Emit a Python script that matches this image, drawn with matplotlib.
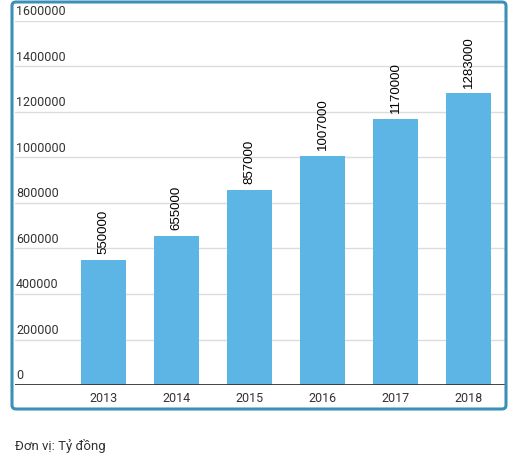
import numpy as np
import matplotlib
matplotlib.use('Agg')
from matplotlib import pyplot as plt
from matplotlib.patches import FancyBboxPatch

years = ['2013', '2014', '2015', '2016', '2017', '2018']
values = [550000, 655000, 857000, 1007000, 1170000, 1283000]
y_ticks = [0, 200000, 400000, 600000, 800000, 1000000, 1200000, 1400000, 1600000]
unit_note = 'Đơn vị: Tỷ đồng'

W, H = 509, 471
fig = plt.figure(figsize=(W / 100, H / 100), dpi=100)
fig.patch.set_facecolor('white')

# rounded frame around the chart
frame = FancyBboxPatch((12 / W, 1 - 409 / H), 494 / W, 407 / H,
                       boxstyle='round,pad=0,rounding_size=0.008',
                       transform=fig.transFigure, facecolor='none',
                       edgecolor='#3b90b8', linewidth=2.2)
fig.patches.append(frame)

ax = fig.add_axes([15 / W, 1 - 385 / H, 490 / W, 364 / H])
x = np.arange(len(years))
ax.bar(x, values, width=0.616, color='#5db5e5', zorder=2)
ax.set_xlim(-1.212, 5.5)
ax.set_ylim(0, 1600000)

for xi, v in zip(x, values):
    ax.annotate(str(v), (xi, v), xytext=(0, 4), textcoords='offset points',
                rotation=90, ha='center', va='bottom', fontsize=9.5,
                family='Liberation Sans', color='black')

# gridlines and y labels sitting just above them
for t in y_ticks[1:]:
    ax.axhline(t, color='#dcdcdc', linewidth=1, zorder=1)
for t in y_ticks:
    ax.text(0.002, t + 12000, str(t), transform=ax.get_yaxis_transform(),
            ha='left', va='bottom', fontsize=9, family='Roboto',
            color='#333333')
ax.axhline(0, color='#333333', linewidth=2, zorder=3)

ax.set_yticks([])
ax.set_xticks(x)
ax.set_xticklabels(years, fontsize=9, family='Roboto', color='#333333')
ax.tick_params(axis='x', length=0, pad=5)
for s in ax.spines.values():
    s.set_visible(False)

fig.text(15 / W, 1 - 446 / H, unit_note, fontsize=9.5, family='Roboto',
         color='#333333', ha='left', va='center')

fig.savefig('out.png', dpi=100)
